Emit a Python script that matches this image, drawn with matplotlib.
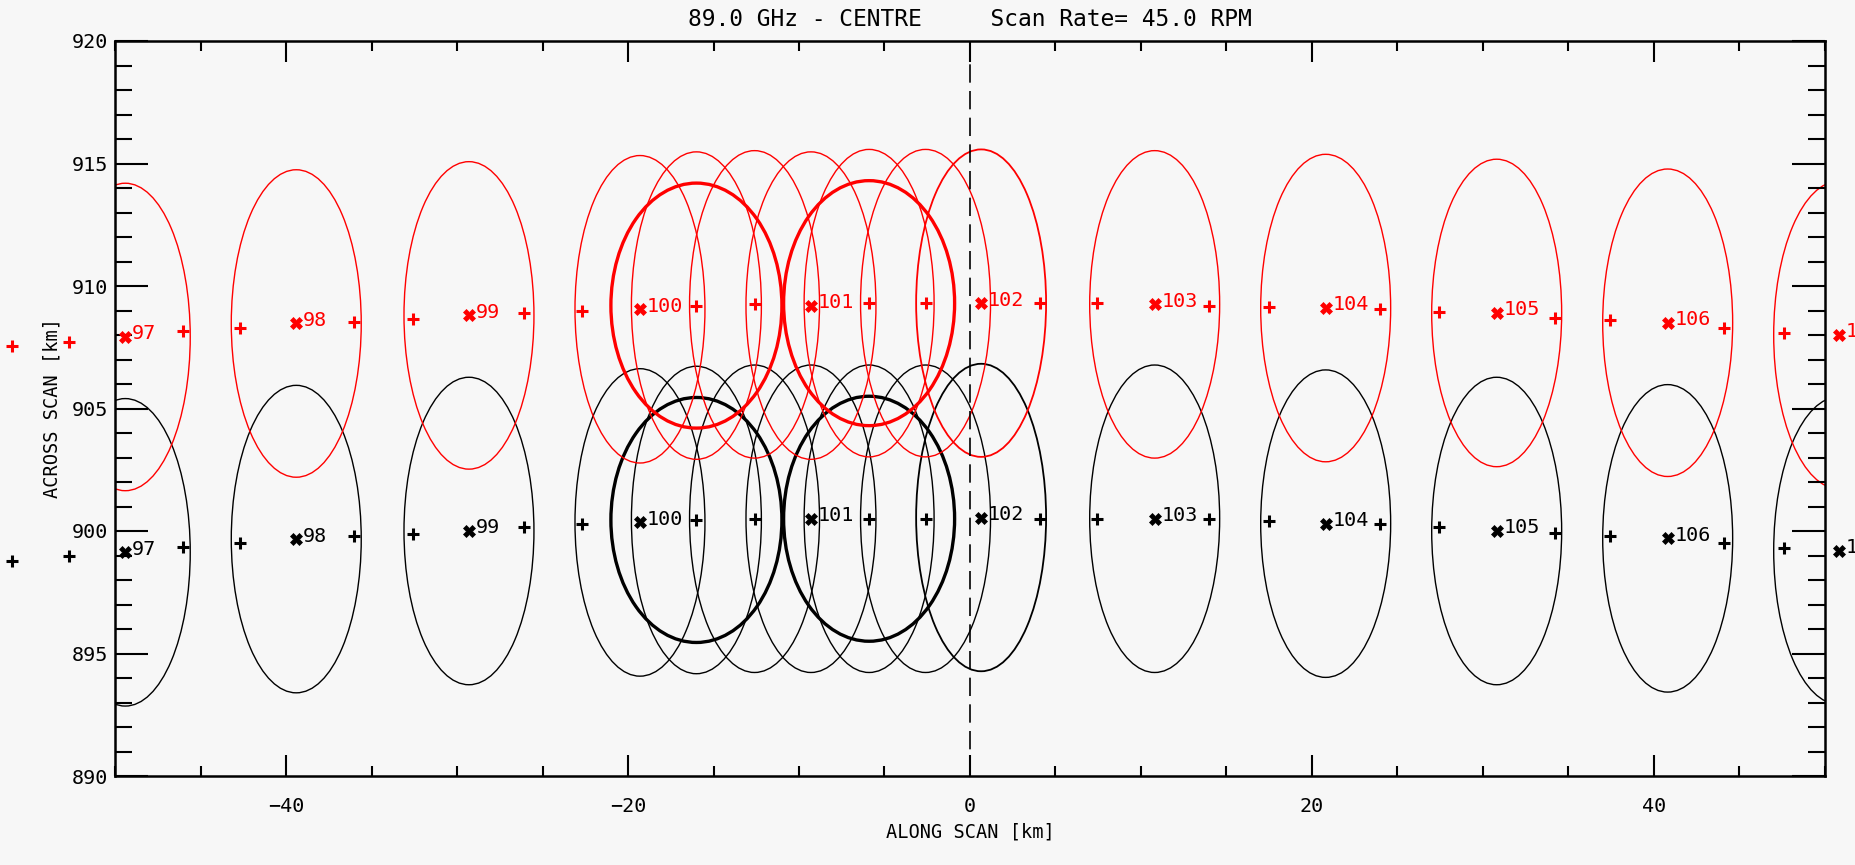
import matplotlib
matplotlib.use('Agg')
import matplotlib.pyplot as plt
from matplotlib.patches import Ellipse
from matplotlib.ticker import MultipleLocator

# along-scan sample positions [km], every third one is a labelled footprint
sample_x = [-56.0, -52.7, -49.4, -46.0, -42.7, -39.4, -36.0, -32.6, -29.3,
            -26.1, -22.7, -19.3, -16.0, -12.6, -9.3, -5.9, -2.6, 0.65,
            4.1, 7.4, 10.8, 14.0, 17.5, 20.8, 24.0, 27.4, 30.8,
            34.2, 37.4, 40.8, 44.1, 47.6, 50.8]

# across-scan positions [km] for the two consecutive scans
scan1_y = [898.78, 898.97, 899.13, 899.33, 899.52, 899.67, 899.8, 899.87, 900.0,
           900.15, 900.3, 900.35, 900.45, 900.5, 900.5, 900.5, 900.5, 900.55,
           900.5, 900.5, 900.5, 900.5, 900.4, 900.3, 900.3, 900.15, 900.0,
           899.9, 899.8, 899.7, 899.5, 899.3, 899.2]
scan2_y = [907.56, 907.73, 907.92, 908.16, 908.27, 908.47, 908.55, 908.65, 908.8,
           908.9, 909.0, 909.05, 909.2, 909.25, 909.2, 909.3, 909.3, 909.3,
           909.3, 909.3, 909.25, 909.2, 909.15, 909.1, 909.05, 908.95, 908.9,
           908.7, 908.6, 908.5, 908.3, 908.1, 908.0]

# index of labelled footprints and their sample numbers
label_idx = list(range(2, 33, 3))
label_num = list(range(97, 108))

# extra footprints drawn between samples 100 and 102, and the averaged ones
extra_idx = [12, 13, 15, 16]
bold_idx = [12, 15]

# footprint sizes [km]
ifov_w, ifov_h = 7.6, 12.55
avg_d = 10.0

plt.rcParams['font.family'] = ['DejaVu Sans Mono', 'DejaVu Sans']

bg = '#f7f7f7'
fig = plt.figure(figsize=(18.56, 8.65), dpi=100, facecolor=bg)
ax = fig.add_axes([115 / 1856, 89 / 865, 1710 / 1856, 735 / 865])
ax.set_facecolor(bg)
ax.set_xlim(-50, 50)
ax.set_ylim(890, 920)

for ys, col in ((scan1_y, 'black'), (scan2_y, 'red')):
    for i in label_idx + extra_idx:
        lw = 1.3 if i == 17 else 1.0
        ax.add_patch(Ellipse((sample_x[i], ys[i]), ifov_w, ifov_h, fill=False,
                             ec=col, lw=lw))
    for i in bold_idx:
        ax.add_patch(Ellipse((sample_x[i], ys[i]), avg_d, avg_d, fill=False,
                             ec=col, lw=2.4))

    plus = [i for i in range(len(sample_x)) if i not in label_idx]
    ax.plot([sample_x[i] for i in plus], [ys[i] for i in plus], ls='none',
            marker='+', ms=9, mew=2.2, color=col, clip_on=False)
    ax.plot([sample_x[i] for i in label_idx], [ys[i] for i in label_idx],
            ls='none', marker='X', ms=9, mew=0.5, color=col, clip_on=False)
    for i, n in zip(label_idx, label_num):
        ax.text(sample_x[i] + 0.4, ys[i] - 0.1, str(n), color=col,
                fontsize=14.5, ha='left', va='baseline')

ax.axvline(0, color='black', lw=1.2, dashes=(11, 5))

ax.xaxis.set_major_locator(MultipleLocator(20))
ax.xaxis.set_minor_locator(MultipleLocator(5))
ax.yaxis.set_major_locator(MultipleLocator(5))
ax.yaxis.set_minor_locator(MultipleLocator(1))
ax.tick_params(axis='both', which='both', direction='in', top=True,
               right=True, width=1.5, labelsize=14.5, colors='black')
ax.tick_params(axis='x', which='major', length=15, pad=15)
ax.tick_params(axis='x', which='minor', length=7.5)
ax.tick_params(axis='y', which='major', length=24, pad=5)
ax.tick_params(axis='y', which='minor', length=12)
for s in ax.spines.values():
    s.set_linewidth(1.8)

fig.text(970 / 1856, 1 - 20 / 865,
         '89.0 GHz - CENTRE     Scan Rate= 45.0 RPM',
         ha='center', va='center', fontsize=16.5)
fig.text(970 / 1856, 1 - 832 / 865, 'ALONG SCAN [km]', ha='center',
         va='center', fontsize=13.4)
fig.text(52 / 1856, 1 - 408 / 865, 'ACROSS SCAN [km]',
         ha='center', va='center', rotation=90, fontsize=13.4)

fig.savefig('out.png', dpi=100, facecolor=bg)
